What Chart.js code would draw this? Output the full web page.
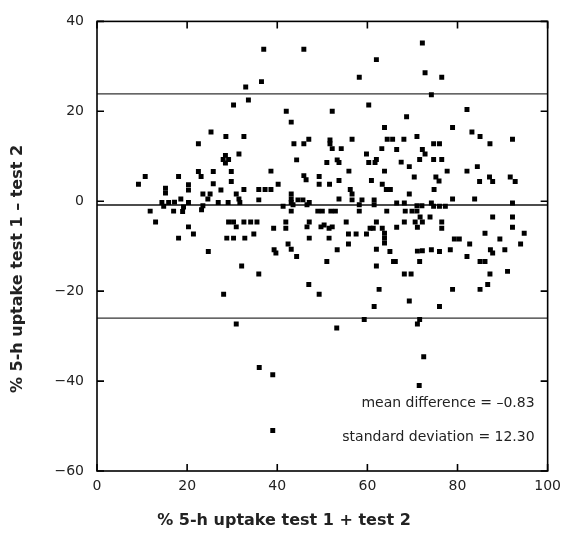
<!DOCTYPE html>
<html><head><meta charset="utf-8">
<script src="https://cdn.jsdelivr.net/npm/chart.js@4"></script>
<style>html,body{margin:0;padding:0;background:#fff}#wrap{width:568px;height:538px}</style>
</head><body><div id="wrap"><canvas id="c" width="568" height="538"></canvas></div>
<script>
const sumValues = [37.0,45.9,62.0,36.5,33.0,58.2,33.6,60.3,30.3,72.2,72.8,76.5,74.2,
25.3,28.6,32.6,22.5,31.5,28.5,28.0,29.2,28.5,10.7,18.1,22.5,23.1,25.8,29.8,29.8,
42.0,52.2,43.1,63.8,43.7,45.9,47.0,51.7,51.7,52.2,54.2,56.6,64.4,65.6,63.2,59.8,44.3,51.0,53.3,53.7,60.3,61.7,62.0,38.6,45.9,46.4,49.3,55.9,63.8,53.7,60.9,
82.1,68.7,78.9,83.2,85.0,68.1,71.0,74.7,76.0,66.5,72.2,72.8,87.2,92.2,67.5,69.3,71.6,74.7,76.5,77.7,82.1,84.4,70.4,75.2,75.9,84.9,87.1,87.8,91.7,92.8,
9.2,15.2,15.2,20.3,20.3,25.8,27.5,23.5,25.1,24.6,30.9,31.5,18.6,14.4,15.9,17.2,20.3,19.2,19.0,23.5,23.2,26.9,29.1,31.7,14.8,17.0,11.8,13.0,29.2,30.3,30.9,20.3,21.4,18.1,28.8,30.3,32.8,24.7,
32.6,35.9,37.3,38.6,40.2,49.3,51.6,63.3,64.2,65.1,43.1,43.1,44.6,45.7,41.3,43.1,43.5,46.6,47.1,43.1,56.2,56.6,56.6,53.7,58.8,58.2,61.5,61.5,49.0,50.0,51.9,52.9,58.2,64.3,35.9,32.6,34.1,35.5,39.2,41.9,41.9,47.1,46.6,49.7,50.4,51.5,52.2,55.3,62.0,60.6,61.3,63.3,63.8,63.8,
34.8,47.1,51.5,55.8,57.5,59.8,63.8,55.8,39.3,39.7,42.4,43.1,62.0,53.3,
69.3,74.8,78.9,83.8,66.5,68.2,71.0,72.1,74.2,74.7,76.0,77.3,92.2,68.4,69.9,71.0,71.7,72.2,70.6,71.1,68.2,73.9,76.5,76.5,66.5,87.8,92.2,92.2,79.3,80.4,86.1,89.4,94.8,82.7,94.0,71.1,72.2,74.2,76.0,78.4,87.3,87.8,90.5,65.0,
32.1,28.1,30.9,44.3,35.9,51.0,62.0,65.8,47.0,49.3,62.6,61.5,59.3,53.2,82.1,66.2,71.6,85.0,86.1,68.2,69.7,87.2,91.1,78.9,85.0,86.7,69.3,76.0,71.6,71.1,
36.0,39.0,39.0,71.5,72.5];
const diffValues = [33.8,33.8,31.5,26.6,25.4,27.6,22.5,21.4,21.4,35.2,28.6,27.6,23.7,
15.4,14.4,14.4,12.8,10.5,10.2,9.3,9.3,8.5,5.5,5.5,6.6,5.5,6.6,6.6,4.4,
20.0,20.0,17.6,16.4,12.8,12.8,13.8,13.6,12.8,11.7,11.7,13.8,13.8,13.8,11.7,10.5,9.2,8.6,9.2,8.6,8.6,8.6,9.3,6.7,5.7,4.8,5.5,6.7,6.7,4.6,4.6,
20.4,18.8,16.4,15.4,14.4,13.8,14.4,12.8,12.8,11.5,11.5,10.5,12.8,13.8,8.7,7.7,9.3,9.3,9.3,6.7,6.7,7.7,5.4,5.4,4.5,4.4,5.4,4.4,5.4,4.4,
3.8,2.9,1.8,3.7,2.5,3.9,2.5,1.6,1.6,0.5,1.6,0.5,0.5,-0.3,-0.3,-0.2,-0.3,-1.3,-2.3,-1.0,-1.9,-0.3,-0.3,-0.3,-1.1,-2.2,-2.2,-4.6,-4.6,-4.6,-5.7,-5.7,-7.3,-8.2,-8.2,-8.2,-8.2,-11.2,
2.6,2.6,2.6,2.6,3.8,3.8,3.8,3.8,2.6,2.6,1.6,0.5,0.3,0.3,-1.1,-0.3,-0.8,-0.8,-0.3,-2.2,2.6,1.6,0.3,0.5,0.3,-0.8,0.3,-0.8,-2.2,-2.2,-2.2,-2.2,-2.2,-2.2,0.3,-4.6,-4.6,-4.6,-6.0,-4.6,-6.0,-4.6,-5.7,-5.7,-5.3,-6.0,-5.7,-4.6,-4.6,-6.0,-6.0,-6.0,-7.1,-8.2,
-7.3,-8.2,-8.2,-7.3,-7.3,-7.3,-9.3,-9.5,-10.8,-11.5,-9.5,-10.7,-10.7,-10.8,
1.6,2.6,0.5,0.5,-0.4,-0.4,-1.0,-1.0,-0.4,-1.1,-1.1,-1.1,-0.4,-2.2,-2.2,-2.2,-3.5,-4.6,-4.6,-5.8,-4.6,-3.5,-4.6,-6.0,-5.8,-3.5,-3.5,-5.8,-8.4,-8.4,-7.1,-8.4,-7.1,-9.5,-9.5,-11.1,-11.0,-10.8,-11.2,-10.8,-10.8,-11.5,-10.8,-11.2,
-14.4,-20.7,-27.3,-12.3,-16.2,-13.4,-14.4,-13.4,-18.5,-20.7,-19.6,-23.4,-26.3,-28.2,-12.3,-13.4,-13.4,-13.4,-13.4,-16.2,-16.2,-16.2,-15.6,-19.6,-19.6,-18.5,-22.2,-23.4,-26.3,-27.3,
-37.0,-38.6,-51.0,-41.0,-34.6];
const meanDiff = -0.83;
const upperLimit = 23.9;
const lowerLimit = -26.0;
const xRange = [0, 100];
const yRange = [-60, 40];
const xTicks = [0, 20, 40, 60, 80, 100];
const yTicks = [-60, -40, -20, 0, 20, 40];
const xTitle = '% 5-h uptake test 1 + test 2';
const yTitle = '% 5-h uptake test 1 \u2013 test 2';
const notes = ['mean difference = \u20130.83', 'standard deviation = 12.30'];

const FONT = "'DejaVu Sans', sans-serif";
const points = sumValues.map((x, i) => ({x, y: diffValues[i]}));
const hline = v => [{x: xRange[0], y: v}, {x: xRange[1], y: v}];

const framePlugin = {
  id: 'frame',
  afterDatasetsDraw(chart) {
    const {ctx, chartArea: a, scales: {x, y}, width, height} = chart;
    ctx.save();
    ctx.strokeStyle = '#000';
    ctx.lineWidth = 1.6;
    ctx.strokeRect(a.left, a.top, a.right - a.left, a.bottom - a.top);
    const tl = 7;
    ctx.beginPath();
    xTicks.forEach(v => {
      const px = x.getPixelForValue(v);
      ctx.moveTo(px, a.top); ctx.lineTo(px, a.top + tl);
      ctx.moveTo(px, a.bottom); ctx.lineTo(px, a.bottom - tl);
    });
    yTicks.forEach(v => {
      const py = y.getPixelForValue(v);
      ctx.moveTo(a.left, py); ctx.lineTo(a.left + tl, py);
      ctx.moveTo(a.right, py); ctx.lineTo(a.right - tl, py);
    });
    ctx.stroke();
    ctx.fillStyle = '#222';
    ctx.font = "14px " + FONT;
    ctx.textAlign = 'right';
    ctx.textBaseline = 'middle';
    ctx.fillText(notes[0], a.right - 13, a.bottom - 68);
    ctx.fillText(notes[1], a.right - 13, a.bottom - 34);
    ctx.font = "bold 16px " + FONT;
    ctx.textAlign = 'center';
    ctx.fillText(xTitle, width / 2, height - 17);
    ctx.translate(18, height / 2);
    ctx.rotate(-Math.PI / 2);
    ctx.fillText(yTitle, 0, 0);
    ctx.restore();
  }
};

new Chart(document.getElementById('c'), {
  type: 'scatter',
  data: {
    datasets: [
      {data: points, pointStyle: 'rect', pointRadius: 3.5, pointHoverRadius: 3.5, backgroundColor: '#000', borderWidth: 0, order: 1},
      {type: 'line', data: hline(upperLimit), borderColor: '#333', borderWidth: 1.2, pointRadius: 0, order: 2},
      {type: 'line', data: hline(meanDiff), borderColor: '#111', borderWidth: 1.6, pointRadius: 0, order: 2},
      {type: 'line', data: hline(lowerLimit), borderColor: '#333', borderWidth: 1.2, pointRadius: 0, order: 2}
    ]
  },
  options: {
    responsive: false,
    animation: false,
    events: [],
    layout: {padding: {top: 3, right: 12, left: 0, bottom: 0}},
    plugins: {legend: {display: false}, tooltip: {enabled: false}},
    scales: {
      x: {
        type: 'linear', min: xRange[0], max: xRange[1],
        afterBuildTicks: s => { s.ticks = xTicks.map(v => ({value: v})); },
        afterFit: s => { s.height = 67; },
        grid: {display: false, drawTicks: false},
        border: {display: false},
        ticks: {padding: 7, color: '#222', font: {family: FONT, size: 14}}
      },
      y: {
        type: 'linear', min: yRange[0], max: yRange[1],
        afterBuildTicks: s => { s.ticks = yTicks.map(v => ({value: v})); },
        afterFit: s => { s.width = 97; },
        grid: {display: false, drawTicks: false},
        border: {display: false},
        ticks: {padding: 13, color: '#222', font: {family: FONT, size: 14}, callback: v => String(v).replace('-', '\u2212')}
      }
    }
  },
  plugins: [framePlugin]
});
</script></body></html>
